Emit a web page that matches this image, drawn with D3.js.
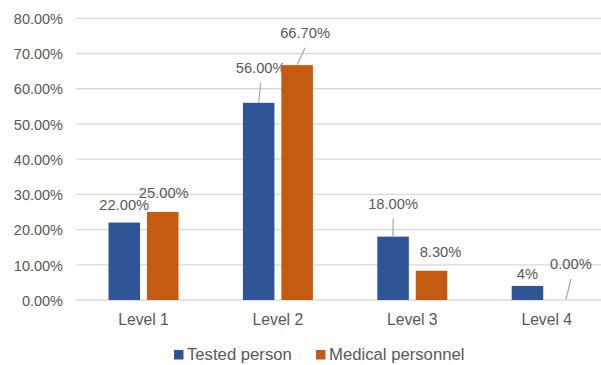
<!DOCTYPE html>
<html>
<head>
<meta charset="utf-8">
<script src="https://cdn.jsdelivr.net/npm/d3@7"></script>
<style>
  html, body { margin: 0; padding: 0; background: #fff; }
  svg { display: block; font-family: "Liberation Sans", Arial, sans-serif; }
</style>
</head>
<body>
<svg id="chart" width="601" height="365"></svg>
<script>
// ---- data ----
const categories = ["Level 1", "Level 2", "Level 3", "Level 4"];
const seriesNames = ["Tested person", "Medical personnel"];
const testedValues = [22.0, 56.0, 18.0, 4.0];
const medicalValues = [25.0, 66.7, 8.3, 0.0];
const testedLabels = ["22.00%", "56.00%", "18.00%", "4%"];
const medicalLabels = ["25.00%", "66.70%", "8.30%", "0.00%"];
const yTicks = [0, 10, 20, 30, 40, 50, 60, 70, 80];

// ---- layout (label placement relative to bar: dx from bar centre, dy from bar top to baseline, leader flag) ----
const testedLabelLayout = [
  { dx: 0, dy: -12.5, leader: false },
  { dx: 2, dy: -29.5, leader: true },
  { dx: 0, dy: -27.3, leader: true },
  { dx: 0, dy: -6.5, leader: false }
];
const medicalLabelLayout = [
  { dx: 1, dy: -13.7, leader: false },
  { dx: 8, dy: -27, leader: true },
  { dx: 9, dy: -13.5, leader: false },
  { dx: 5, dy: -30.7, leader: true }
];

const colors = ["#2F5597", "#C55A11"];
const textColor = "#595959";
const gridColor = "#D9D9D9";

const svg = d3.select("#chart");

const plotLeft = 76.3, plotRight = 613.9, plotTop = 18.3, plotBottom = 300;

const x0 = d3.scaleBand().domain(categories).range([plotLeft, plotRight]).padding(0);
const x1 = d3.scaleBand().domain(seriesNames).range([-35, 35]).paddingInner(0.18).paddingOuter(0);
const y = d3.scaleLinear().domain([0, 80]).range([plotBottom, plotTop]);

// gridlines
svg.append("g")
  .selectAll("line")
  .data(yTicks)
  .join("line")
  .attr("x1", plotLeft)
  .attr("x2", 601)
  .attr("y1", d => y(d))
  .attr("y2", d => y(d))
  .attr("stroke", gridColor)
  .attr("stroke-width", 1.3);

// y axis labels
const yAxis = d3.axisLeft(y).tickValues(yTicks).tickFormat(d => d.toFixed(2) + "%").tickSize(0).tickPadding(0);
const yg = svg.append("g").attr("transform", `translate(63,0)`).call(yAxis);
yg.select(".domain").remove();
yg.selectAll("text")
  .attr("fill", textColor)
  .attr("font-size", "14.5px")
  .attr("font-family", '"Liberation Sans", Arial, sans-serif')
  .attr("dy", "0.36em");

// x axis labels
const xAxis = d3.axisBottom(x0).tickSize(0).tickPadding(0);
const xg = svg.append("g").attr("transform", `translate(0,${plotBottom})`).call(xAxis);
xg.select(".domain").remove();
xg.selectAll("text")
  .attr("fill", textColor)
  .attr("font-size", "15.7px")
  .attr("font-family", '"Liberation Sans", Arial, sans-serif')
  .attr("dy", null)
  .attr("y", 24.5);

const series = [
  { name: seriesNames[0], values: testedValues, labels: testedLabels, layout: testedLabelLayout, color: colors[0] },
  { name: seriesNames[1], values: medicalValues, labels: medicalLabels, layout: medicalLabelLayout, color: colors[1] }
];

series.forEach(s => {
  const g = svg.append("g");
  const items = categories.map((c, i) => ({ c, v: s.values[i], label: s.labels[i], lay: s.layout[i] }));
  const cx = d => x0(d.c) + x0.bandwidth() / 2 + x1(s.name) + x1.bandwidth() / 2;

  g.selectAll("rect")
    .data(items)
    .join("rect")
    .attr("x", d => x0(d.c) + x0.bandwidth() / 2 + x1(s.name))
    .attr("y", d => y(d.v))
    .attr("width", x1.bandwidth())
    .attr("height", d => y(0) - y(d.v))
    .attr("fill", s.color);

  // leader lines
  g.selectAll("line.leader")
    .data(items.filter(d => d.lay.leader))
    .join("line")
    .attr("class", "leader")
    .attr("x1", d => cx(d) + d.lay.dx)
    .attr("y1", d => y(d.v) + d.lay.dy + 9.5)
    .attr("x2", d => cx(d))
    .attr("y2", d => y(d.v) - 0.5)
    .attr("stroke", "#A6A6A6")
    .attr("stroke-width", 1.2);

  g.selectAll("text")
    .data(items)
    .join("text")
    .attr("x", d => cx(d) + d.lay.dx)
    .attr("y", d => y(d.v) + d.lay.dy)
    .attr("text-anchor", "middle")
    .attr("fill", textColor)
    .attr("font-size", "14.7px")
    .text(d => d.label);
});

// legend
const legendItems = [
  { name: seriesNames[0], color: colors[0], x: 174 },
  { name: seriesNames[1], color: colors[1], x: 316 }
];
const lg = svg.append("g");
legendItems.forEach(it => {
  lg.append("rect").attr("x", it.x).attr("y", 350).attr("width", 9.5).attr("height", 9.5).attr("fill", it.color);
  lg.append("text").attr("x", it.x + 13).attr("y", 359.5).attr("fill", textColor)
    .attr("font-size", "16.7px").text(it.name);
});
</script>
</body>
</html>
